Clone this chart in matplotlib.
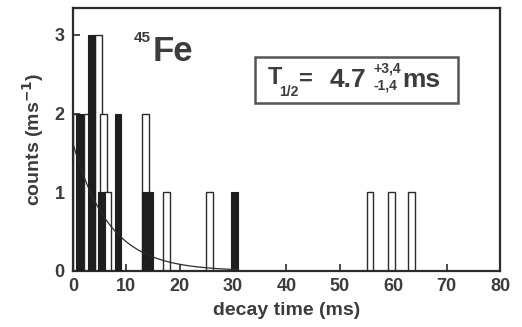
import numpy as np
import matplotlib.pyplot as plt
from matplotlib.patches import Rectangle

# histogram bins (left edge in ms) and counts
open_left = [0.0, 2.0, 4.2, 5.1, 5.8, 13.0, 16.9, 25.0, 55.0, 59.0, 62.8]
open_counts = [2, 2, 3, 2, 1, 2, 1, 1, 1, 1, 1]
filled_left = [0.6, 2.9, 4.7, 7.8, 12.9, 13.8, 29.7]
filled_counts = [2, 3, 1, 2, 1, 1, 1]
bin_width = 1.25

# exponential fit
half_life = 4.7
amplitude = 1.62
t_end = 31.0

x_ticks = [0, 10, 20, 30, 40, 50, 60, 70, 80]
y_ticks = [0, 1, 2, 3]

ink = "#2b2b2b"
txt = "#3c3c3c"
plt.rcParams["font.family"] = ["Liberation Sans", "DejaVu Sans"]
plt.rcParams["font.weight"] = "bold"
plt.rcParams["axes.labelweight"] = "bold"

fig = plt.figure(figsize=(5.22, 3.27), dpi=100)
ax = fig.add_axes([0.1398, 0.1713, 0.818, 0.804])

ax.bar(open_left, open_counts, width=bin_width, align="edge",
       facecolor="white", edgecolor=ink, linewidth=1.0, zorder=2)
ax.bar(filled_left, filled_counts, width=bin_width, align="edge",
       facecolor="#1e1e1e", edgecolor="#1e1e1e", linewidth=0.8, zorder=3)

t = np.linspace(0, t_end, 200)
ax.plot(t, amplitude * np.exp(-np.log(2) / half_life * t), color=ink, lw=0.9, zorder=4)

ax.set_xlim(0, 80)
ax.set_ylim(0, 3.34)
ax.set_xticks(x_ticks)
ax.set_yticks(y_ticks)
ax.tick_params(direction="in", length=5, width=1.2, colors=ink, labelcolor=txt,
               labelsize=13, pad=5)
ax.tick_params(axis="y", pad=6)
for s in ax.spines.values():
    s.set_linewidth(1.6)
    s.set_color(ink)

ax.set_xlabel("decay time (ms)", fontsize=14, color=txt, labelpad=5)
ax.set_ylabel("counts (ms$^{\\mathbf{-1}}$)", fontsize=14, color=txt, labelpad=6)

# 45Fe label
ax.text(0.181, 0.885, "45", transform=ax.transAxes, fontsize=11, color=txt,
        ha="right", va="center")
ax.text(0.186, 0.835, "Fe", transform=ax.transAxes, fontsize=25, color=txt,
        ha="left", va="center")

# half-life box
ax.add_patch(Rectangle((0.426, 0.639), 0.476, 0.175, transform=ax.transAxes,
                       facecolor="white", edgecolor="#555555", linewidth=1.8, zorder=5))
yc = 0.725
ax.text(0.455, yc + 0.01, "T", transform=ax.transAxes, fontsize=17, color=txt,
        ha="left", va="center", zorder=6)
ax.text(0.482, yc - 0.045, "1/2", transform=ax.transAxes, fontsize=10, color=txt,
        ha="left", va="center", zorder=6)
ax.text(0.53, yc + 0.005, "=", transform=ax.transAxes, fontsize=17, color=txt,
        ha="left", va="center", zorder=6)
ax.text(0.6, yc, "4.7", transform=ax.transAxes, fontsize=19, color=txt,
        ha="left", va="center", zorder=6)
ax.text(0.704, yc + 0.045, "+3,4", transform=ax.transAxes, fontsize=10, color=txt,
        ha="left", va="center", zorder=6)
ax.text(0.704, yc - 0.02, "-1,4", transform=ax.transAxes, fontsize=10, color=txt,
        ha="left", va="center", zorder=6)
ax.text(0.772, yc, "ms", transform=ax.transAxes, fontsize=19, color=txt,
        ha="left", va="center", zorder=6)

fig.savefig("out.png", dpi=100)
